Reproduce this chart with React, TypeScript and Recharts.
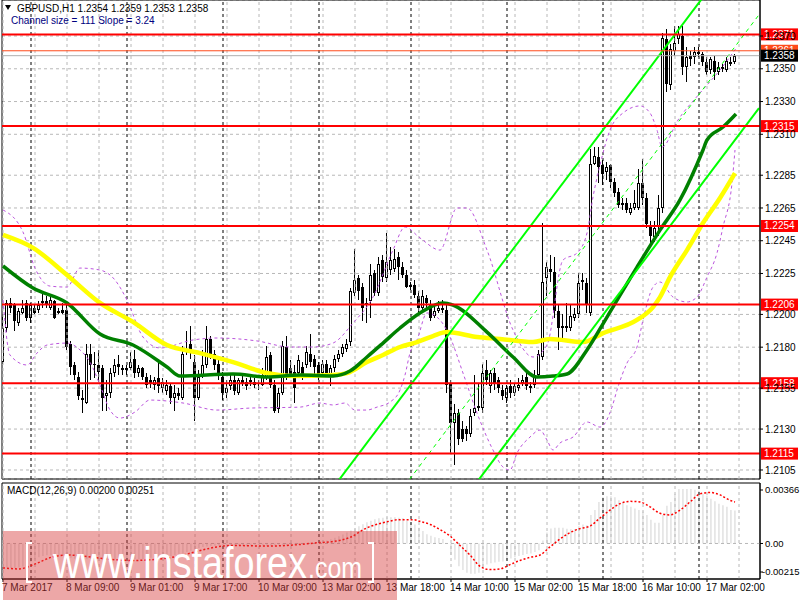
import React from 'react';
import {
  ComposedChart,
  Bar,
  Line,
  XAxis,
  YAxis,
  CartesianGrid,
  ReferenceLine,
  ReferenceArea,
} from 'recharts';

// GBPUSD H1, bars counted from 7 Mar 17:00
const ohlc: [number, number, number, number][] = [
  [1.2171, 1.2200, 1.2170, 1.2192], // 0
  [1.2192, 1.2209, 1.2189, 1.2207],
  [1.2207, 1.2210, 1.2201, 1.2204],
  [1.2206, 1.2207, 1.2190, 1.2196],
  [1.2195, 1.2204, 1.2193, 1.2202],
  [1.2201, 1.2209, 1.2200, 1.2204],
  [1.2207, 1.2209, 1.2196, 1.2198],
  [1.2198, 1.2207, 1.2195, 1.2206],
  [1.2204, 1.2206, 1.2200, 1.2201],
  [1.2203, 1.2208, 1.2201, 1.2206],
  [1.2207, 1.2213, 1.2204, 1.2208], // 10
  [1.2208, 1.2211, 1.2204, 1.2206],
  [1.2204, 1.2211, 1.2203, 1.2209],
  [1.2208, 1.2209, 1.2197, 1.2198],
  [1.2201, 1.2204, 1.2200, 1.2202],
  [1.2203, 1.2207, 1.2200, 1.2201],
  [1.2203, 1.2207, 1.2178, 1.2180],
  [1.2182, 1.2184, 1.2163, 1.2168],
  [1.2169, 1.2171, 1.2160, 1.2163],
  [1.2162, 1.2165, 1.2148, 1.2150],
  [1.2149, 1.2154, 1.2140, 1.2148], // 20
  [1.2146, 1.2182, 1.2145, 1.2176],
  [1.2176, 1.2182, 1.2160, 1.2169],
  [1.2170, 1.2177, 1.2161, 1.2169],
  [1.2169, 1.2178, 1.2159, 1.2165],
  [1.2167, 1.2169, 1.2141, 1.2149],
  [1.2150, 1.2160, 1.2141, 1.2152],
  [1.2152, 1.2167, 1.2149, 1.2164],
  [1.2164, 1.2173, 1.2162, 1.2169],
  [1.2170, 1.2175, 1.2163, 1.2168],
  [1.2167, 1.2169, 1.2163, 1.2166], // 30
  [1.2166, 1.2169, 1.2163, 1.2167],
  [1.2167, 1.2177, 1.2166, 1.2171],
  [1.2173, 1.2178, 1.2161, 1.2164],
  [1.2164, 1.2169, 1.2162, 1.2167],
  [1.2167, 1.2168, 1.2160, 1.2162],
  [1.2162, 1.2164, 1.2155, 1.2157],
  [1.2160, 1.2163, 1.2155, 1.2158],
  [1.2157, 1.2162, 1.2154, 1.2160],
  [1.2161, 1.2172, 1.2152, 1.2156],
  [1.2155, 1.2161, 1.2152, 1.2159], // 40
  [1.2153, 1.2160, 1.2151, 1.2157],
  [1.2156, 1.2158, 1.2145, 1.2149],
  [1.2149, 1.2157, 1.2141, 1.2152],
  [1.2152, 1.2155, 1.2148, 1.2150],
  [1.2149, 1.2181, 1.2148, 1.2176],
  [1.2177, 1.2190, 1.2175, 1.2179],
  [1.2182, 1.2193, 1.2173, 1.2177],
  [1.2171, 1.2175, 1.2135, 1.2149],
  [1.2149, 1.2166, 1.2148, 1.2162],
  [1.2163, 1.2178, 1.2161, 1.2169], // 50
  [1.2169, 1.2193, 1.2167, 1.2185],
  [1.2185, 1.2187, 1.2173, 1.2176],
  [1.2176, 1.2178, 1.2166, 1.2169],
  [1.2170, 1.2172, 1.2160, 1.2163],
  [1.2162, 1.2165, 1.2148, 1.2152],
  [1.2152, 1.2160, 1.2149, 1.2155],
  [1.2156, 1.2163, 1.2154, 1.2160],
  [1.2160, 1.2163, 1.2151, 1.2153],
  [1.2152, 1.2161, 1.2151, 1.2160],
  [1.2160, 1.2164, 1.2156, 1.2158], // 60
  [1.2159, 1.2161, 1.2154, 1.2156],
  [1.2160, 1.2163, 1.2156, 1.2159],
  [1.2159, 1.2161, 1.2155, 1.2157],
  [1.2156, 1.2160, 1.2154, 1.2157],
  [1.2157, 1.2167, 1.2156, 1.2163],
  [1.2162, 1.2181, 1.2160, 1.2174],
  [1.2175, 1.2177, 1.2155, 1.2157],
  [1.2157, 1.2160, 1.2140, 1.2141],
  [1.2142, 1.2155, 1.2140, 1.2152],
  [1.2152, 1.2184, 1.2151, 1.2181], // 70
  [1.2180, 1.2187, 1.2160, 1.2163],
  [1.2167, 1.2172, 1.2161, 1.2163],
  [1.2165, 1.2169, 1.2146, 1.2155],
  [1.2164, 1.2175, 1.2162, 1.2172],
  [1.2168, 1.2171, 1.2160, 1.2162],
  [1.2169, 1.2181, 1.2167, 1.2177],
  [1.2176, 1.2188, 1.2168, 1.2171],
  [1.2173, 1.2175, 1.2162, 1.2168],
  [1.2169, 1.2171, 1.2160, 1.2162],
  [1.2164, 1.2172, 1.2162, 1.2170], // 80
  [1.2170, 1.2172, 1.2162, 1.2164],
  [1.2162, 1.2169, 1.2156, 1.2167],
  [1.2167, 1.2175, 1.2165, 1.2173],
  [1.2173, 1.2178, 1.2171, 1.2176],
  [1.2176, 1.2182, 1.2174, 1.2180],
  [1.2179, 1.2185, 1.2177, 1.2182],
  [1.2183, 1.2216, 1.2181, 1.2214],
  [1.2213, 1.2240, 1.2211, 1.2221],
  [1.2222, 1.2224, 1.2209, 1.2214],
  [1.2217, 1.2219, 1.2196, 1.2204], // 90
  [1.2206, 1.2210, 1.2195, 1.2207],
  [1.2208, 1.2231, 1.2198, 1.2224],
  [1.2225, 1.2227, 1.2211, 1.2213],
  [1.2213, 1.2235, 1.2211, 1.2231],
  [1.2233, 1.2236, 1.2220, 1.2223],
  [1.2222, 1.2250, 1.2220, 1.2232],
  [1.2227, 1.2241, 1.2224, 1.2233],
  [1.2228, 1.2240, 1.2226, 1.2234],
  [1.2235, 1.2238, 1.2221, 1.2229],
  [1.2229, 1.2232, 1.2222, 1.2224], // 100
  [1.2224, 1.2227, 1.2216, 1.2217],
  [1.2217, 1.2220, 1.2215, 1.2218],
  [1.2218, 1.2221, 1.2210, 1.2212],
  [1.2211, 1.2214, 1.2201, 1.2204],
  [1.2204, 1.2215, 1.2203, 1.2211],
  [1.2210, 1.2212, 1.2203, 1.2207],
  [1.2206, 1.2209, 1.2196, 1.2198],
  [1.2199, 1.2206, 1.2198, 1.2202],
  [1.2202, 1.2208, 1.2201, 1.2204],
  [1.2203, 1.2209, 1.2201, 1.2204], // 110
  [1.2203, 1.2206, 1.2152, 1.2157],
  [1.2158, 1.2160, 1.2115, 1.2134],
  [1.2134, 1.2145, 1.2108, 1.2140],
  [1.2140, 1.2142, 1.2120, 1.2124],
  [1.2130, 1.2135, 1.2122, 1.2124],
  [1.2130, 1.2132, 1.2123, 1.2127],
  [1.2127, 1.2142, 1.2125, 1.2138],
  [1.2140, 1.2163, 1.2138, 1.2143],
  [1.2144, 1.2158, 1.2141, 1.2143],
  [1.2143, 1.2170, 1.2140, 1.2164], // 120
  [1.2166, 1.2172, 1.2157, 1.2160],
  [1.2156, 1.2166, 1.2152, 1.2164],
  [1.2164, 1.2167, 1.2154, 1.2158],
  [1.2160, 1.2162, 1.2152, 1.2155],
  [1.2154, 1.2157, 1.2148, 1.2150],
  [1.2149, 1.2157, 1.2146, 1.2155],
  [1.2156, 1.2160, 1.2149, 1.2152],
  [1.2152, 1.2158, 1.2150, 1.2156],
  [1.2155, 1.2161, 1.2153, 1.2157],
  [1.2158, 1.2163, 1.2156, 1.2160], // 130
  [1.2162, 1.2164, 1.2154, 1.2156],
  [1.2156, 1.2159, 1.2152, 1.2155],
  [1.2157, 1.2166, 1.2155, 1.2163],
  [1.2163, 1.2178, 1.2161, 1.2176],
  [1.2174, 1.2256, 1.2172, 1.2220],
  [1.2222, 1.2232, 1.2211, 1.2229],
  [1.2228, 1.2236, 1.2220, 1.2226],
  [1.2226, 1.2235, 1.2198, 1.2202],
  [1.2202, 1.2206, 1.2178, 1.2192],
  [1.2193, 1.2200, 1.2183, 1.2192], // 140
  [1.2192, 1.2207, 1.2189, 1.2193],
  [1.2192, 1.2206, 1.2190, 1.2199],
  [1.2198, 1.2204, 1.2196, 1.2200],
  [1.2200, 1.2225, 1.2198, 1.2219],
  [1.2221, 1.2225, 1.2215, 1.2220],
  [1.2219, 1.2222, 1.2201, 1.2206],
  [1.2201, 1.2301, 1.2199, 1.2292],
  [1.2292, 1.2302, 1.2291, 1.2297],
  [1.2296, 1.2302, 1.2280, 1.2290],
  [1.2291, 1.2294, 1.2279, 1.2286], // 150
  [1.2287, 1.2293, 1.2282, 1.2290],
  [1.2291, 1.2292, 1.2277, 1.2281],
  [1.2281, 1.2283, 1.2272, 1.2274],
  [1.2275, 1.2277, 1.2265, 1.2267],
  [1.2267, 1.2271, 1.2264, 1.2268],
  [1.2268, 1.2271, 1.2262, 1.2264],
  [1.2262, 1.2268, 1.2261, 1.2265],
  [1.2265, 1.2276, 1.2264, 1.2268],
  [1.2265, 1.2289, 1.2264, 1.2280],
  [1.2280, 1.2295, 1.2267, 1.2271], // 160
  [1.2271, 1.2274, 1.2253, 1.2255],
  [1.2254, 1.2257, 1.2242, 1.2248],
  [1.2247, 1.2257, 1.2244, 1.2253],
  [1.2254, 1.2273, 1.2248, 1.2265],
  [1.2265, 1.2372, 1.2262, 1.2369],
  [1.2368, 1.2374, 1.2336, 1.2341],
  [1.2340, 1.2365, 1.2337, 1.2362],
  [1.2361, 1.2376, 1.2358, 1.2366],
  [1.2368, 1.2376, 1.2365, 1.2371],
  [1.2370, 1.2376, 1.2346, 1.2351], // 170
  [1.2351, 1.2363, 1.2342, 1.2357],
  [1.2358, 1.2361, 1.2352, 1.2356],
  [1.2357, 1.2363, 1.2353, 1.2360],
  [1.2360, 1.2363, 1.2357, 1.2359],
  [1.2359, 1.2360, 1.2352, 1.2354],
  [1.2354, 1.2357, 1.2346, 1.2348],
  [1.2349, 1.2357, 1.2347, 1.2356],
  [1.2355, 1.2358, 1.2343, 1.2348],
  [1.2348, 1.2354, 1.2346, 1.2351],
  [1.2350, 1.2353, 1.2348, 1.2351], // 180
  [1.2349, 1.2357, 1.2348, 1.2355],
  [1.2354, 1.2357, 1.2352, 1.2353],
  [1.2354, 1.2359, 1.2353, 1.2358],
];

// indicator lines: [bar, price]
const yellowMa = [
  [0, 1.22485], [7.5, 1.22406], [16, 1.22241], [24.25, 1.2207], [32.5, 1.21954], [41, 1.21813],
  [49.25, 1.21764], [57.5, 1.21709], [66, 1.21642], [72.5, 1.21624], [82.5, 1.2163], [86, 1.21642],
  [91, 1.21709], [95, 1.21752], [99.25, 1.21801], [103.5, 1.21831], [107.5, 1.21868], [111, 1.21892],
  [118.5, 1.21862], [124.25, 1.2185], [132.5, 1.21831], [136.75, 1.2185], [145, 1.21831], [150, 1.21886],
  [158.5, 1.21966], [162.5, 1.22045], [164.25, 1.22106], [166.75, 1.22228], [171, 1.22393],
  [175, 1.22558], [179.25, 1.22711], [183, 1.22863],
];

const greenMa = [
  [0, 1.22296], [7.5, 1.22161], [16, 1.2207], [24.25, 1.2188], [32.5, 1.21813], [41, 1.21679],
  [44.25, 1.21624], [57.5, 1.21636], [66, 1.21618], [74.25, 1.2163], [82.5, 1.21624], [86.75, 1.21654],
  [91, 1.2174], [95, 1.21825], [99.25, 1.21917], [104.25, 1.22009], [110, 1.2207], [112.5, 1.22057],
  [121, 1.21892], [127.5, 1.2174], [133.5, 1.21618], [137.5, 1.21624], [141, 1.21636], [146, 1.21783],
  [151, 1.21984], [158.5, 1.22289], [164.25, 1.22515], [169.25, 1.22699], [175, 1.23004],
  [176, 1.23065], [180, 1.23144], [183.25, 1.23224],
];

const upperBand = [
  [0, 1.22638], [5, 1.22503], [8, 1.22283], [11.75, 1.22173], [16, 1.22167], [19.25, 1.22283],
  [24.25, 1.22271], [28, 1.2221], [31, 1.22088], [35, 1.21862], [39.25, 1.21795], [47.5, 1.21844],
  [53.5, 1.21856], [63.5, 1.21838], [71.75, 1.21801], [77.5, 1.21801], [82.5, 1.21825], [87.5, 1.21947],
  [92.5, 1.22106], [97.5, 1.22393], [100.5, 1.22534], [104.25, 1.22467], [109.25, 1.22393],
  [113.5, 1.2265], [116, 1.2265], [121, 1.22393], [127.5, 1.21905], [132.5, 1.2174], [136, 1.21813],
  [140, 1.22332], [143.5, 1.22375], [146, 1.22497], [147.5, 1.22717], [149.25, 1.22912],
  [151.75, 1.23126], [155, 1.2323], [159.25, 1.23273], [161.75, 1.2323], [163.5, 1.23126],
  [164.75, 1.23022], [168.75, 1.23187], [174.25, 1.23352], [179.25, 1.23493], [183.5, 1.23633],
];

const lowerBand = [
  [0, 1.22088], [1.75, 1.21752], [6, 1.21691], [8.5, 1.21764], [11, 1.21813], [16, 1.21825],
  [19.25, 1.21783], [21.75, 1.21709], [24.25, 1.21569], [26.75, 1.21416], [29.25, 1.21367],
  [33, 1.21404], [36.75, 1.21477], [45, 1.21459], [53.5, 1.21416], [61.75, 1.21428], [74.25, 1.21434],
  [79.25, 1.21459], [82.5, 1.21447], [85.5, 1.21459], [88, 1.21416], [91, 1.21416], [93.5, 1.21434],
  [96.75, 1.21465], [99.25, 1.21538], [100.5, 1.2163], [101.75, 1.21764], [103.5, 1.21844],
  [106, 1.22009], [109.25, 1.21966], [111.75, 1.21862], [115, 1.21642], [118.5, 1.21398],
  [122.5, 1.21172], [125, 1.21068], [126.75, 1.2105], [128.5, 1.21153], [131.75, 1.21251],
  [134.25, 1.21294], [136, 1.21233], [137.5, 1.21172], [139.25, 1.21215], [142.5, 1.21251],
  [146, 1.21343], [149.25, 1.21312], [152.25, 1.21434], [153.5, 1.21538], [156, 1.21703],
  [158.5, 1.21801], [160, 1.21966], [162.5, 1.22167], [164.25, 1.22198], [167.5, 1.22106],
  [171, 1.22076], [173.5, 1.22106], [176, 1.22228], [178.5, 1.22375], [180, 1.22534],
  [182.25, 1.22802], [183, 1.23004],
];

// regression channel (size 111, slope 3.24)
const channelUpper = [[80, 1.2086], [189, 1.2439]];
const channelMid = [[80, 1.2029], [189, 1.2383]];
const channelLower = [[80, 1.1973], [189, 1.2326]];

// MACD(12,26,9) histogram, in units of 0.0001
const macdHist = [
  -14.2, -14.5, -14.8, -14.8, -14.5, -14.0, -12.8, -11.0, -9.5, -8.4,
  -7.6, -7.2, -7.0, -7.0, -7.2, -7.6, -8.0, -8.6, -9.2, -9.6,
  -9.8, -9.6, -9.4, -9.2, -9.4, -9.8, -10.2, -10.0, -9.6, -9.2,
  -9.0, -9.0, -9.2, -9.4, -9.6, -9.4, -9.0, -8.6, -8.4, -8.4,
  -8.6, -8.2, -7.8, -7.2, -6.6, -6.0, -5.2, -4.4, -3.6, -2.8,
  -2.2, -1.8, -1.6, -1.4, -1.2, -1.4, -1.6, -1.4, -1.2, -1.0,
  -1.2, -1.4, -1.0, -0.8, -1.0, -1.2, -1.4, -1.2, -1.0, -0.8,
  -1.0, -1.2, -1.0, -0.8, -0.6, -0.6, -0.4, -0.2, 0.4, 0.8,
  1.2, 1.8, 2.6, 3.4, 4.4, 5.4, 6.6, 7.8, 9.0, 10.4,
  11.6, 12.8, 13.8, 14.6, 15.2, 15.6, 15.8, 15.8, 15.8, 15.6,
  15.4, 13.8, 12.5, 11.5, 9.5, 7.6, 5.6, 4.7, 3.7, 3.3,
  2.7, 0.2, -7.0, -9.9, -13.8, -16.1, -17.7, -18.3, -18.3, -17.7,
  -14.8, -12.8, -11.9, -11.5, -11.1, -10.9, -9.9, -9.1, -8.4, -7.6,
  -7.0, -6.4, -6.0, -5.1, -4.1, 1.8, 6.6, 9.1, 9.5, 9.5,
  9.5, 8.9, 8.6, 8.6, 10.5, 11.5, 11.1, 17.3, 20.2, 25.1,
  28.0, 28.6, 28.6, 28.0, 26.1, 25.1, 23.2, 22.2, 21.2, 20.2,
  19.3, 17.3, 14.4, 12.5, 12.5, 17.3, 22.8, 25.1, 30.0, 32.9,
  32.9, 32.9, 32.9, 32.5, 31.9, 30.0, 29.0, 27.0, 25.5, 24.1,
  23.2, 22.2, 20.2, 20.0,
];

// signal line, [bar, value in 0.0001]
const macdSignal = [
  [0, -14.8], [4, -15.4], [7.6, -12.8], [12.6, -8.0], [16, -7.0], [20, -7.6], [24, -8.9],
  [28.4, -9.9], [32.6, -10.3], [36.75, -9.9], [41, -8.9], [45, -7.0], [49, -4.5], [53.4, -2.1],
  [57.6, -1.2], [66, -1.6], [74.25, -0.6], [78.4, 0.4], [82.6, 1.2], [86.75, 3.7], [91, 9.5],
  [95, 12.5], [99.25, 14.4], [102.6, 14.4], [104.2, 13.4], [106.8, 11.5], [109.25, 8.4],
  [111.75, 4.5], [114.25, -1.2], [116.75, -7.0], [119.25, -13.8], [121.75, -15.8], [124.25, -15.4],
  [126.75, -12.8], [129.25, -10.3], [131.75, -8.4], [134.25, -7.0], [136.75, -2.1], [139.25, 2.7],
  [141.75, 6.6], [144.25, 9.0], [146.75, 10.5], [149.25, 15.4], [151.75, 20.2], [154.25, 24.1],
  [156.75, 25.5], [159.25, 25.1], [161.75, 22.2], [164.25, 18.3], [166.75, 17.3], [169.25, 20.2],
  [171.75, 25.1], [174.25, 30.0], [176.75, 30.9], [179.25, 29.4], [181.75, 26.1], [183, 25.1],
];

const levels = [1.2371, 1.2315, 1.2254, 1.2206, 1.2158, 1.2115];
const ASK = 1.2361;
const BID = 1.2358;

const priceTicks = [1.237, 1.235, 1.233, 1.231, 1.2285, 1.2265, 1.2245, 1.2225, 1.22, 1.218, 1.2155, 1.213, 1.2105];
const macdTicks = [0.00366, 0, -0.00215];
const macdTickLabels = ['0.00366', '0.00', '-0.00215'];

const timeTicks = [0, 16, 32, 48, 64, 80, 96, 112, 128, 144, 160, 176];
const timeLabels = [
  '7 Mar 2017', '8 Mar 09:00', '9 Mar 01:00', '9 Mar 17:00', '10 Mar 09:00', '13 Mar 02:00',
  '13 Mar 18:00', '14 Mar 10:00', '15 Mar 02:00', '15 Mar 18:00', '16 Mar 10:00', '17 Mar 02:00',
];
const gridBars = [0, 8, 16, 24, 32, 40, 48, 56, 64, 72, 80, 88, 96, 104, 112, 120, 128, 136, 144, 152, 160, 168, 176, 184];
const daySeparators = [7, 31, 55, 79, 102, 126, 150, 174];

const X_MIN = -0.25;
const X_MAX = 189.25;
const PRICE_MIN = 1.20995;
const PRICE_MAX = 1.2392;
const MACD_MIN = -0.00215;
const MACD_MAX = 0.00366;

const candles = ohlc.map(([o, h, l, c], i) => ({ i, o, h, l, c, range: [l, h] }));
const macdRows = macdHist.map((m, i) => ({ i, m: m / 10000 }));
const toRows = (pts: number[][], k = 1) => pts.map(([i, v]) => ({ i, v: v * k }));

const FONT = "'Liberation Sans', Arial, sans-serif";

const Candle = (props: any) => {
  const { x, y, width, height, payload } = props;
  if (x == null || y == null) return null;
  const { o, h, l, c } = payload;
  const y0 = Math.min(y, y + height);
  const hh = Math.abs(height);
  const k = hh / Math.max(h - l, 1e-9);
  const cx = Math.floor(x + width / 2) + 0.5;
  const top = Math.round(y0 + (h - Math.max(o, c)) * k);
  const bot = Math.max(top + 1, Math.round(y0 + (h - Math.min(o, c)) * k));
  const bull = c >= o;
  return (
    <g>
      <line x1={cx} x2={cx} y1={Math.round(y0)} y2={Math.round(y0 + hh)} stroke="#000" strokeWidth={1} />
      {bull ? (
        <rect x={cx - 1} y={top + 0.5} width={2} height={Math.max(0, bot - top - 1)} fill="#fff" stroke="#000" strokeWidth={1} />
      ) : (
        <rect x={cx - 1.5} y={top} width={3} height={bot - top} fill="#000" />
      )}
    </g>
  );
};

const Tag = ({ viewBox, text, bg }: any) => {
  if (!viewBox) return null;
  const x = viewBox.x + viewBox.width + 1;
  const y = viewBox.y;
  return (
    <g>
      <rect x={x} y={y - 6} width={37} height={12} fill={bg} />
      <text x={x + 3} y={y} dy="0.35em" fill="#fff" fontSize={10} fontFamily={FONT}>
        {text}
      </text>
    </g>
  );
};

const TimeTick = ({ x, y, payload }: any) => {
  const idx = timeTicks.indexOf(payload.value);
  return (
    <text x={x - 1} y={y} dy="0.71em" fontSize={10} fill="#000" fontFamily={FONT} textAnchor="start">
      {timeLabels[idx]}
    </text>
  );
};

const MacdTick = ({ x, y, payload }: any) => {
  const idx = macdTicks.indexOf(payload.value);
  const shift = idx === 0 ? 7 : idx === 2 ? -7 : 0;
  const tx = idx === 2 ? x - 3 : x;
  return (
    <g>
      <line x1={x - 5} x2={x - 2} y1={y + shift} y2={y + shift} stroke="#000" />
      <text x={tx} y={y + shift} dy="0.35em" fontSize={9.5} fill="#000" fontFamily={FONT}>
        {macdTickLabels[idx]}
      </text>
    </g>
  );
};

const verticalGrid = (keyPrefix: string) => [
  ...gridBars.map((b) => (
    <ReferenceLine key={`${keyPrefix}g${b}`} x={b} stroke="#b8b8b8" strokeDasharray="3 3" />
  )),
  ...daySeparators.map((b) => (
    <ReferenceLine key={`${keyPrefix}d${b}`} x={b} stroke="#000" strokeDasharray="3 3" />
  )),
];

export default function App() {
  return (
    <div style={{ position: 'absolute', left: 0, top: 0, width: 800, height: 600, background: '#fff', fontFamily: FONT, overflow: 'hidden' }}>
      <div style={{ position: 'absolute', left: 0, top: 0 }}>
        <ComposedChart width={800} height={480} data={candles} margin={{ top: 0, right: 0, left: 2, bottom: 1 }}>
          <CartesianGrid vertical={false} stroke="#b8b8b8" strokeDasharray="3 3" />
          {verticalGrid('p')}
          <XAxis type="number" dataKey="i" domain={[X_MIN, X_MAX]} allowDataOverflow hide />
          <YAxis
            orientation="right"
            type="number"
            domain={[PRICE_MIN, PRICE_MAX]}
            allowDataOverflow
            ticks={priceTicks}
            interval={0}
            width={40}
            tickSize={3}
            tickMargin={2}
            tickFormatter={(v: number) => v.toFixed(4)}
            tick={{ fontSize: 10, fill: '#000', fontFamily: FONT }}
            tickLine={{ stroke: '#000' }}
            axisLine={{ stroke: '#000' }}
          />
          <Bar dataKey="range" barSize={3} shape={(p: any) => <Candle {...p} />} isAnimationActive={false} />
          <Line data={toRows(upperBand)} dataKey="v" type="monotone" stroke="#bb55dd" strokeWidth={1} strokeDasharray="3 3" dot={false} isAnimationActive={false} />
          <Line data={toRows(lowerBand)} dataKey="v" type="monotone" stroke="#bb55dd" strokeWidth={1} strokeDasharray="3 3" dot={false} isAnimationActive={false} />
          <Line data={toRows(yellowMa)} dataKey="v" type="monotone" stroke="#ffff00" strokeWidth={4.5} dot={false} isAnimationActive={false} />
          <Line data={toRows(greenMa)} dataKey="v" type="monotone" stroke="#008000" strokeWidth={3.5} dot={false} isAnimationActive={false} />
          <Line data={toRows(channelUpper)} dataKey="v" type="linear" stroke="#00ff00" strokeWidth={2} dot={false} isAnimationActive={false} />
          <Line data={toRows(channelMid)} dataKey="v" type="linear" stroke="#00ff00" strokeWidth={1} strokeDasharray="4 4" dot={false} isAnimationActive={false} />
          <Line data={toRows(channelLower)} dataKey="v" type="linear" stroke="#00ff00" strokeWidth={2} dot={false} isAnimationActive={false} />
          <ReferenceLine y={ASK} stroke="#ff4a1a" strokeWidth={1} label={(p: any) => <Tag viewBox={p.viewBox} text={ASK.toFixed(4)} bg="#ff4a1a" />} />
          <ReferenceLine y={BID} stroke="#b0b0b0" strokeWidth={1} label={(p: any) => <Tag viewBox={p.viewBox} text={BID.toFixed(4)} bg="#000" />} />
          {levels.map((lv) => (
            <ReferenceLine
              key={lv}
              y={lv}
              stroke="#ff0000"
              strokeWidth={2}
              label={(p: any) => <Tag viewBox={p.viewBox} text={lv.toFixed(4)} bg="#ff0000" />}
            />
          ))}
          <ReferenceArea x1={X_MIN} x2={X_MAX} y1={PRICE_MIN} y2={PRICE_MAX} fill="none" stroke="#000" strokeWidth={1} />
        </ComposedChart>
      </div>

      <div style={{ position: 'absolute', left: 0, top: 480 }}>
        <ComposedChart width={800} height={120} data={macdRows} margin={{ top: 3, right: 0, left: 2, bottom: 0 }}>
          {verticalGrid('m')}
          <XAxis
            type="number"
            dataKey="i"
            domain={[X_MIN, X_MAX]}
            allowDataOverflow
            ticks={timeTicks}
            interval={0}
            height={21}
            tickSize={3}
            tickMargin={2}
            tick={<TimeTick />}
            tickLine={{ stroke: '#000' }}
            axisLine={{ stroke: '#000' }}
          />
          <YAxis
            orientation="right"
            type="number"
            domain={[MACD_MIN, MACD_MAX]}
            allowDataOverflow
            ticks={macdTicks}
            interval={0}
            width={40}
            tickSize={3}
            tickMargin={2}
            tick={<MacdTick />}
            tickLine={false}
            axisLine={{ stroke: '#000' }}
          />
          <ReferenceLine y={0} stroke="#b8b8b8" strokeDasharray="3 3" />
          <Bar dataKey="m" fill="#c0c0c0" barSize={3} isAnimationActive={false} />
          <Line data={toRows(macdSignal, 1 / 10000)} dataKey="v" type="monotone" stroke="#ff0000" strokeWidth={1.5} strokeDasharray="2 2" dot={false} isAnimationActive={false} />
          <ReferenceArea x1={X_MIN} x2={X_MAX} y1={MACD_MIN} y2={MACD_MAX} fill="none" stroke="#000" strokeWidth={1} />
        </ComposedChart>
      </div>

      <svg width={800} height={600} style={{ position: 'absolute', left: 0, top: 0, pointerEvents: 'none' }}>
        <path d="M5 5 L11 5 L8 10 Z" fill="#000" />
        <text x={17} y={12} fontSize={10} fill="#000" fontFamily={FONT}>
          GBPUSD,H1  1.2354 1.2359 1.2353 1.2358
        </text>
        <text x={11} y={24} fontSize={10} fill="#000080" fontFamily={FONT}>
          Channel size = 111 Slope = 3.24
        </text>
        <text x={7} y={494} fontSize={10} fill="#000" fontFamily={FONT}>
          MACD(12,26,9) 0.00200 0.00251
        </text>
        <rect x={3} y={531} width={394} height={69} fill="rgba(215,60,60,0.45)" />
        <path d="M32 543 L27 543 L27 582 L32 582" stroke="#fff" strokeWidth={2} fill="none" />
        <path d="M368 543 L373 543 L373 582 L368 582" stroke="#fff" strokeWidth={2} fill="none" />
        <text x={53} y={578} fontSize={44} fill="#fff" fontFamily={FONT} textLength={254} lengthAdjust="spacingAndGlyphs">
          www.instaforex
        </text>
        <text x={308} y={578} fontSize={30} fill="#fff" fontFamily={FONT} textLength={54} lengthAdjust="spacingAndGlyphs">
          .com
        </text>
      </svg>
    </div>
  );
}
